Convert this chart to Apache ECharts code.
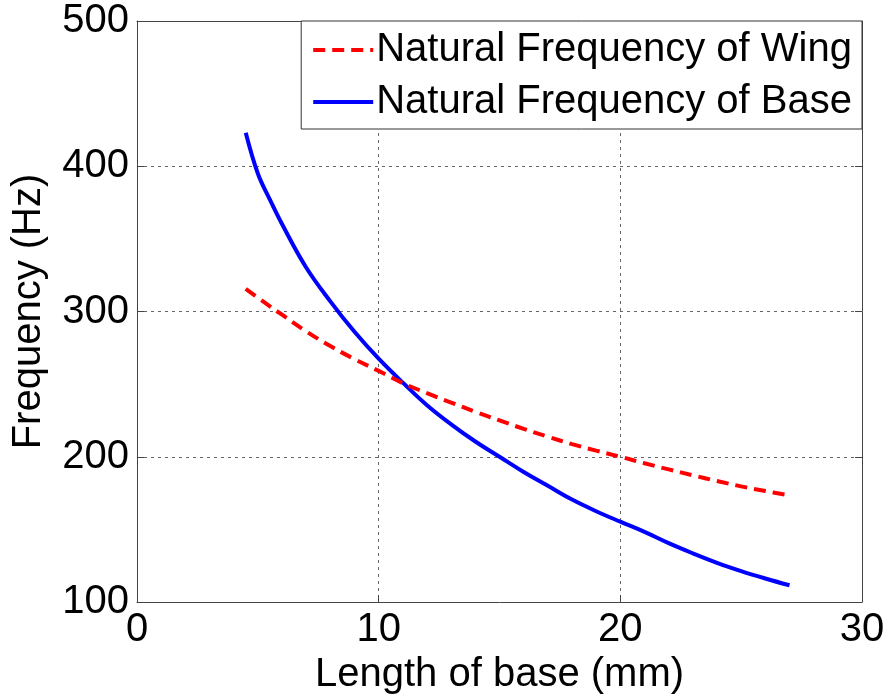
<!DOCTYPE html>
<html>
<head>
<meta charset="utf-8">
<script src="https://cdn.jsdelivr.net/npm/echarts@6/dist/echarts.min.js"></script>
<style>
html,body{margin:0;padding:0;background:#fff;}
#chart{width:886px;height:700px;}
</style>
</head>
<body>
<div id="chart"></div>
<script>
// Length of base (mm)
const lengths = [4.5, 5, 5.5, 6, 7, 8, 9, 10, 11, 12, 13, 14, 15, 16, 17, 18, 19, 20, 21, 22, 23, 24, 25, 26, 27];
// Natural frequency of wing (Hz)
const wingFreq = [315.6, 309.5, 303.5, 297.8, 286.3, 276.2, 267.2, 259.1, 250.7, 243.8, 237.3, 231, 225, 219.2, 213.8, 208.7, 204.2, 200, 195.5, 191.3, 187.2, 183.3, 179.6, 176.4, 173.4];
// Natural frequency of base (Hz)
const baseFreq = [423, 395, 377, 360.2, 330.3, 307, 286, 267.5, 251, 235.5, 222.3, 210.5, 200, 189.5, 180, 170.5, 162.5, 155.3, 148.3, 140.5, 133.5, 127, 121.3, 116.2, 111.5];
const seriesNames = ['Natural Frequency of Wing', 'Natural Frequency of Base'];
const xTitle = 'Length of base (mm)';
const yTitle = 'Frequency (Hz)';

const FONT = 'Liberation Sans, Arial, sans-serif';
const pair = (xs, ys) => xs.map((x, i) => [x, ys[i]]);

const chart = echarts.init(document.getElementById('chart'), null, {renderer: 'canvas'});
const gridLine = {show: true, showMinLine: false, showMaxLine: false, lineStyle: {color: '#666', width: 1, type: [3, 4]}};
const frameLine = {show: true, onZero: false, lineStyle: {color: '#444', width: 1}};
const tickIn = {show: true, inside: true, length: 7, lineStyle: {color: '#444', width: 1}};

chart.setOption({
  animation: false,
  backgroundColor: '#fff',
  grid: {left: 137, top: 21, right: 24, bottom: 98, containLabel: false, outerBoundsMode: 'none'},
  legend: {
    orient: 'vertical',
    right: 24, top: 21,
    itemWidth: 60, itemHeight: 20, itemGap: 8,
    padding: [7, 10, 5, 10],
    backgroundColor: '#fff',
    borderColor: '#333', borderWidth: 1, borderRadius: 0,
    itemStyle: {opacity: 0},
    lineStyle: {width: 4},
    textStyle: {fontSize: 40, fontFamily: FONT, color: '#000', lineHeight: 44, padding: [0, 0, 0, -2]},
    data: seriesNames
  },
  xAxis: [{
    type: 'value', min: 0, max: 30, interval: 10,
    name: xTitle, nameLocation: 'middle', nameGap: 53,
    nameTextStyle: {fontSize: 40, fontFamily: FONT, color: '#000'},
    axisLine: frameLine, axisTick: tickIn,
    axisLabel: {fontSize: 40, fontFamily: FONT, color: '#000', margin: 8},
    splitLine: gridLine
  }, {
    type: 'value', position: 'top', min: 0, max: 30, interval: 10,
    axisLine: frameLine, axisTick: tickIn, axisLabel: {show: false}, splitLine: {show: false}
  }],
  yAxis: [{
    type: 'value', min: 100, max: 500, interval: 100,
    name: yTitle, nameLocation: 'middle', nameGap: 88,
    nameTextStyle: {fontSize: 40, fontFamily: FONT, color: '#000'},
    axisLine: frameLine, axisTick: tickIn,
    axisLabel: {fontSize: 40, fontFamily: FONT, color: '#000', margin: 8},
    splitLine: gridLine
  }, {
    type: 'value', position: 'right', min: 100, max: 500, interval: 100,
    axisLine: frameLine, axisTick: tickIn, axisLabel: {show: false}, splitLine: {show: false}
  }],
  series: [{
    name: seriesNames[0], type: 'line', smooth: 0.4, showSymbol: false, symbol: 'none',
    data: pair(lengths, wingFreq),
    lineStyle: {color: '#ff0000', width: 4, type: [12, 7]},
    itemStyle: {color: '#ff0000'}, z: 3
  }, {
    name: seriesNames[1], type: 'line', smooth: 0.4, showSymbol: false, symbol: 'none',
    data: pair(lengths, baseFreq),
    lineStyle: {color: '#0000ff', width: 4},
    itemStyle: {color: '#0000ff'}, z: 2
  }]
});
</script>
</body>
</html>
